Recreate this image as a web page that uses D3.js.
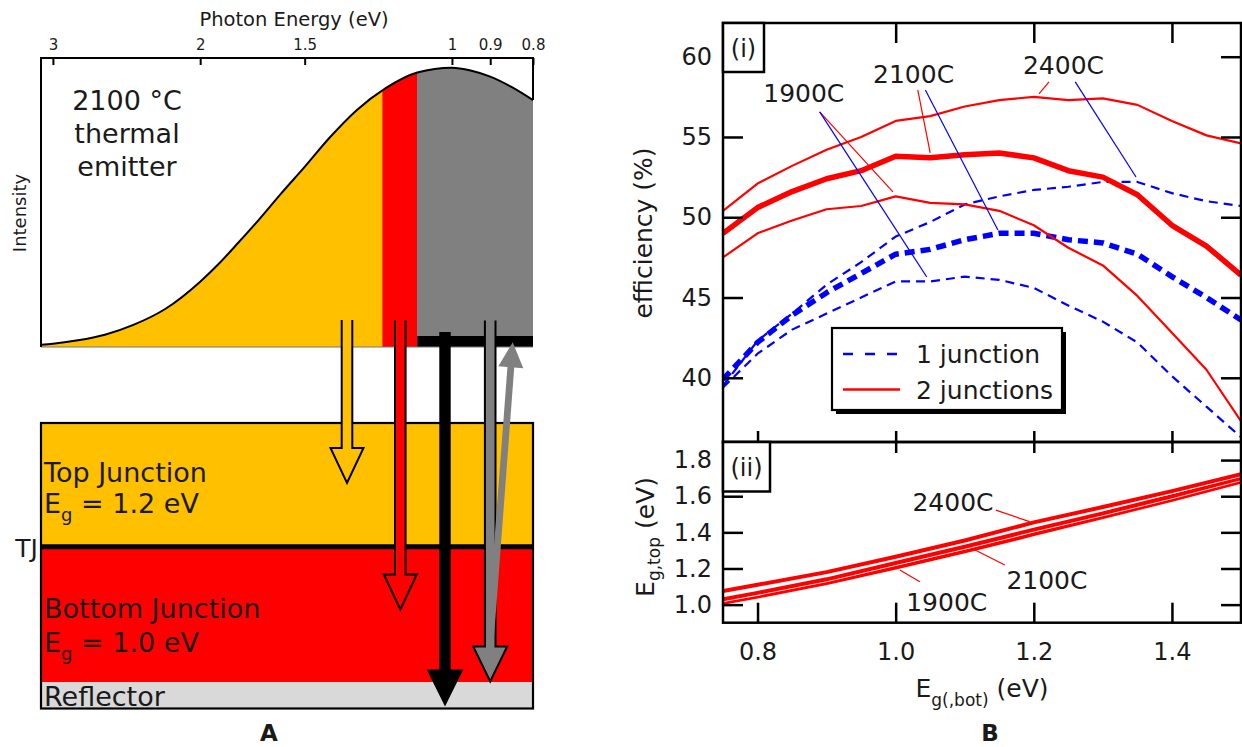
<!DOCTYPE html>
<html><head><meta charset="utf-8">
<script src="https://cdn.jsdelivr.net/npm/d3@7"></script>
<style>
html,body{margin:0;padding:0;background:#fff;}
svg{display:block;}
</style></head><body>
<svg id="c" width="1242" height="747"></svg>
<script>
// ================= DATA =================
// Panel A: 2100 °C thermal emitter spectrum (relative intensity vs photon energy)
const specEnergy    = [3.1, 3.0, 2.8, 2.6, 2.4, 2.2, 2.0, 1.9, 1.8, 1.7, 1.6, 1.5, 1.4, 1.3, 1.2, 1.1, 1.0, 0.95, 0.9, 0.85, 0.8];
const specIntensity = [0.008, 0.012, 0.024, 0.044, 0.08, 0.137, 0.234, 0.298, 0.374, 0.457, 0.55, 0.645, 0.75, 0.848, 0.927, 0.983, 1.0, 0.99, 0.968, 0.932, 0.884];
const energyTicks = [3, 2, 1.5, 1, 0.9, 0.8];
const bandEdges = [1.21, 1.10];           // top-junction / bottom-junction absorption edges as drawn
const bandColors = ["#FFC000", "#FF0000", "#808080"];

// Panel B (i): efficiency (%) vs bottom bandgap (eV)
const egBot = [0.75, 0.80, 0.85, 0.90, 0.95, 1.00, 1.05, 1.10, 1.15, 1.20, 1.25, 1.30, 1.35, 1.40, 1.45, 1.50];
const eff2J_2400 = [50.4, 52.1, 53.2, 54.2, 55.0, 56.0, 56.3, 56.9, 57.3, 57.5, 57.3, 57.4, 57.0, 56.0, 55.1, 54.6];
const eff2J_2100 = [49.0, 50.6, 51.6, 52.4, 52.9, 53.8, 53.7, 53.9, 54.0, 53.7, 52.9, 52.5, 51.4, 49.5, 48.2, 46.4];
const eff2J_1900 = [47.5, 49.0, 49.8, 50.5, 50.7, 51.3, 50.9, 50.8, 50.4, 49.5, 48.1, 47.0, 45.1, 42.8, 40.5, 37.3];
const eff1J_2400 = [39.5, 42.3, 44.0, 45.8, 47.2, 48.8, 49.7, 50.8, 51.3, 51.7, 51.9, 52.2, 52.2, 51.5, 51.0, 50.7];
const eff1J_2100 = [39.9, 42.2, 43.9, 45.3, 46.5, 47.7, 48.0, 48.6, 49.0, 49.0, 48.6, 48.4, 47.7, 46.3, 45.0, 43.6];
const eff1J_1900 = [39.4, 41.5, 43.0, 44.0, 45.0, 46.0, 46.0, 46.3, 46.1, 45.6, 44.5, 43.5, 42.2, 40.1, 38.2, 36.3];
const effTicks = [40, 45, 50, 55, 60];
const egTicks = [0.8, 1.0, 1.2, 1.4];

// Panel B (ii): optimal top bandgap vs bottom bandgap
const egBot2 = [0.75, 0.80, 0.90, 1.00, 1.10, 1.20, 1.30, 1.40, 1.50];
const egTop_1900 = [1.010, 1.045, 1.120, 1.205, 1.295, 1.390, 1.485, 1.580, 1.680];
const egTop_2100 = [1.030, 1.065, 1.140, 1.230, 1.320, 1.415, 1.505, 1.600, 1.700];
const egTop_2400 = [1.075, 1.110, 1.180, 1.265, 1.355, 1.455, 1.540, 1.628, 1.722];
const egTopTicks = [1.0, 1.2, 1.4, 1.6, 1.8];

// Annotation labels (data coordinates)
const annoI = [
  {label: "1900C", x: 0.867, y: 57.73, lines: [
    {c: "#FF0000", x1: 0.890, y1: 56.56, x2: 0.996, y2: 51.58},
    {c: "#0000FF", x1: 0.890, y1: 56.56, x2: 1.045, y2: 46.28}]},
  {label: "2100C", x: 1.026, y: 58.93, lines: [
    {c: "#FF0000", x1: 1.032, y1: 57.93, x2: 1.050, y2: 54.01},
    {c: "#0000FF", x1: 1.043, y1: 57.93, x2: 1.148, y2: 49.21}]},
  {label: "2400C", x: 1.243, y: 59.49, lines: [
    {c: "#FF0000", x1: 1.222, y1: 58.43, x2: 1.2075, y2: 57.68},
    {c: "#0000FF", x1: 1.260, y1: 58.43, x2: 1.348, y2: 52.51}]}
];
const annoII = [
  {label: "2400C", x: 1.083, y: 1.570, lines: [{c: "#FF0000", x1: 1.145, y1: 1.523, x2: 1.194, y2: 1.459}]},
  {label: "2100C", x: 1.219, y: 1.136, lines: [{c: "#FF0000", x1: 1.158, y1: 1.219, x2: 1.115, y2: 1.302}]},
  {label: "1900C", x: 1.074, y: 1.016, lines: [{c: "#FF0000", x1: 1.035, y1: 1.127, x2: 1.006, y2: 1.192}]}
];

// ================= DRAWING =================
const FONT = "'DejaVu Sans', sans-serif";
const INK = "#1a1a1a";
const svg = d3.select("#c").attr("font-family", FONT);
const defs = svg.append("defs");

// ---------- Panel A : spectrum ----------
const xE = d3.scaleLog().domain([3.1, 0.8]).range([41, 533]);
const yI = d3.scaleLinear().domain([0, 1]).range([347, 67.7]);
const spec = specEnergy.map((e, i) => ({e, v: specIntensity[i]}));
const areaA = d3.area().x(d => xE(d.e)).y0(yI(0)).y1(d => yI(d.v)).curve(d3.curveMonotoneX);
const lineA = d3.line().x(d => xE(d.e)).y(d => yI(d.v)).curve(d3.curveMonotoneX);
const bandBounds = [specEnergy[0], bandEdges[0], bandEdges[1], specEnergy[specEnergy.length - 1]];
const gA = svg.append("g");
bandColors.forEach((col, i) => {
  const x0 = xE(bandBounds[i]), x1 = xE(bandBounds[i + 1]);
  defs.append("clipPath").attr("id", "band" + i).append("rect")
    .attr("x", x0 - (i ? 0.3 : 0)).attr("y", 0).attr("width", x1 - x0 + 0.3).attr("height", 400);
  gA.append("path").datum(spec).attr("d", areaA).attr("fill", col).attr("clip-path", `url(#band${i})`);
});
// black bar under the sub-bandgap region
gA.append("rect").attr("x", xE(bandEdges[1])).attr("y", 336)
  .attr("width", xE(0.8) - xE(bandEdges[1])).attr("height", yI(0) - 336).attr("fill", "#000");
gA.append("path").datum(spec).attr("d", lineA).attr("fill", "none").attr("stroke", "#000").attr("stroke-width", 2);
gA.append("line").attr("x1", xE(3.1)).attr("x2", xE(0.8)).attr("y1", yI(0)).attr("y2", yI(0))
  .attr("stroke", "#777").attr("stroke-width", 1);
gA.append("path")
  .attr("d", `M${xE(3.1)},${yI(0)}V58H${xE(0.8)}V${yI(specIntensity[specIntensity.length - 1])}`)
  .attr("fill", "none").attr("stroke", "#000").attr("stroke-width", 2);
const axA = gA.append("g").attr("transform", "translate(0,58)")
  .call(d3.axisTop(xE).tickValues(energyTicks).tickFormat(d => String(d)).tickSize(-7).tickPadding(8));
axA.select(".domain").remove();
axA.attr("font-family", null).attr("font-size", null);
axA.selectAll(".tick line").attr("stroke", "#000").attr("stroke-width", 2);
axA.selectAll(".tick text").attr("font-size", 15).attr("fill", INK);
gA.append("text").attr("x", 294).attr("y", 26).attr("text-anchor", "middle")
  .attr("font-size", 19.5).attr("fill", INK).text("Photon Energy (eV)");
gA.append("text").attr("transform", "translate(26,213) rotate(-90)").attr("text-anchor", "middle")
  .attr("font-size", 18).attr("fill", INK).text("Intensity");
["2100 °C", "thermal", "emitter"].forEach((t, i) => {
  gA.append("text").attr("x", 127).attr("y", 110 + i * 33).attr("text-anchor", "middle")
    .attr("font-size", 27).attr("fill", INK).text(t);
});

// ---------- Panel A : device stack ----------
const stack = [
  {y0: 423, y1: 547, fill: "#FFC000"},
  {y0: 547, y1: 682, fill: "#FF0000"},
  {y0: 682, y1: 708.5, fill: "#D9D9D9"}
];
const gS = svg.append("g");
stack.forEach(s => gS.append("rect").attr("x", 41).attr("y", s.y0).attr("width", 492).attr("height", s.y1 - s.y0).attr("fill", s.fill));
gS.append("line").attr("x1", 41).attr("x2", 533).attr("y1", 546.7).attr("y2", 546.7).attr("stroke", "#000").attr("stroke-width", 5);
gS.append("rect").attr("x", 41).attr("y", 423).attr("width", 492).attr("height", 285.5)
  .attr("fill", "none").attr("stroke", "#000").attr("stroke-width", 2.2);

function egText(y, val) {
  const t = gS.append("text").attr("x", 44).attr("y", y).attr("font-size", 27).attr("fill", INK);
  t.append("tspan").text("E");
  t.append("tspan").attr("font-size", 18).attr("dy", 8).text("g");
  t.append("tspan").attr("dy", -8).text(" = " + val + " eV");
}
gS.append("text").attr("x", 44).attr("y", 481.5).attr("font-size", 27).attr("fill", INK).text("Top Junction");
egText(513, "1.2");
gS.append("text").attr("x", 44).attr("y", 618).attr("font-size", 27).attr("fill", INK).text("Bottom Junction");
egText(651.5, "1.0");
gS.append("text").attr("x", 44).attr("y", 705.5).attr("font-size", 27).attr("fill", INK).text("Reflector");
gS.append("text").attr("x", 38).attr("y", 557).attr("text-anchor", "end").attr("font-size", 25).attr("fill", INK).text("TJ");

// ---------- Panel A : arrows ----------
function downArrow(cx, yTop, yTip, w, hw, hl, fill, outline) {
  const yh = yTip - hl;
  const pts = [[cx - w, yTop], [cx - w, yh], [cx - hw, yh], [cx, yTip], [cx + hw, yh], [cx + w, yh], [cx + w, yTop]];
  const d = "M" + pts.map(p => p.join(",")).join("L");
  gS.append("path").attr("d", d + "Z").attr("fill", fill);
  if (outline) gS.append("path").attr("d", d).attr("fill", "none").attr("stroke", "#000")
    .attr("stroke-width", 2).attr("stroke-linejoin", "miter");
}
downArrow(347, 320, 483, 5.3, 16.5, 35, "#FFC000", true);
downArrow(400.3, 320.5, 609.5, 5.3, 16.5, 35, "#FF0000", true);
downArrow(445, 332, 706.5, 5.7, 18.3, 37, "#000", false);
downArrow(490.2, 320.5, 681.5, 5.3, 17, 35, "#808080", true);
// slanted reflected photon (up)
(function () {
  const bx = 490, by = 645, tx = 512.7, ty = 342.3, hl = 25, hw = 12.5, w = 3.4;
  const L = Math.hypot(tx - bx, ty - by), ux = (tx - bx) / L, uy = (ty - by) / L, nx = -uy, ny = ux;
  const hx = tx - ux * hl, hy = ty - uy * hl;
  const pts = [[bx + nx * w, by + ny * w], [hx + nx * w, hy + ny * w], [hx + nx * hw, hy + ny * hw], [tx, ty],
    [hx - nx * hw, hy - ny * hw], [hx - nx * w, hy - ny * w], [bx - nx * w, by - ny * w]];
  gS.append("path").attr("d", "M" + pts.map(p => p.join(",")).join("L") + "Z").attr("fill", "#808080");
})();
svg.append("text").attr("x", 269).attr("y", 741).attr("text-anchor", "middle")
  .attr("font-size", 23).attr("font-weight", "bold").attr("fill", INK).text("A");

// ---------- Panel B ----------
const X0 = 723, X1 = 1241;
const xB = d3.scaleLinear().domain([0.75, 1.5]).range([X0, X1]);
const yEff = d3.scaleLinear().domain([36, 62.1]).range([442, 23]);
const yTop = d3.scaleLinear().domain([0.9, 1.9]).range([622.7, 442]);
const gB = svg.append("g");

function styleAxis(g, fs) {
  g.select(".domain").remove();
  g.attr("font-family", null).attr("font-size", null);
  g.selectAll(".tick line").attr("stroke", "#000").attr("stroke-width", 2.5);
  g.selectAll(".tick text").attr("font-size", fs).attr("fill", INK);
}
// clip for (i)
defs.append("clipPath").attr("id", "clipI").append("rect").attr("x", X0).attr("y", 23).attr("width", X1 - X0).attr("height", 419);
defs.append("clipPath").attr("id", "clipII").append("rect").attr("x", X0).attr("y", 442).attr("width", X1 - X0).attr("height", 180.7);

const seriesI = [
  {v: eff1J_1900, c: "#0000FF", w: 2.2, dash: "9,6"},
  {v: eff1J_2400, c: "#0000FF", w: 2.2, dash: "9,6"},
  {v: eff1J_2100, c: "#0000FF", w: 5.5, dash: "10,6"},
  {v: eff2J_1900, c: "#FF0000", w: 2.2, dash: null},
  {v: eff2J_2400, c: "#FF0000", w: 2.2, dash: null},
  {v: eff2J_2100, c: "#FF0000", w: 5.5, dash: null}
];
const lineI = d3.line().x((d, i) => xB(egBot[i])).y(d => yEff(d));
const gI = gB.append("g").attr("clip-path", "url(#clipI)");
seriesI.forEach(s => {
  gI.append("path").datum(s.v).attr("d", lineI).attr("fill", "none").attr("stroke", s.c)
    .attr("stroke-width", s.w).attr("stroke-dasharray", s.dash).attr("stroke-linejoin", "round");
});
annoI.forEach(a => {
  a.lines.forEach(l => gI.append("line").attr("x1", xB(l.x1)).attr("y1", yEff(l.y1)).attr("x2", xB(l.x2)).attr("y2", yEff(l.y2))
    .attr("stroke", l.c).attr("stroke-width", 1.2));
  gB.append("text").attr("x", xB(a.x)).attr("y", yEff(a.y)).attr("dy", "0.36em").attr("text-anchor", "middle")
    .attr("font-size", 25).attr("fill", INK).text(a.label);
});

// legend
gB.append("rect").attr("x", 836).attr("y", 332).attr("width", 230).attr("height", 82).attr("fill", "#000");
gB.append("rect").attr("x", 832).attr("y", 328).attr("width", 230).attr("height", 82).attr("fill", "#fff")
  .attr("stroke", "#000").attr("stroke-width", 2.2);
const legendItems = [
  {label: "1 junction", c: "#0000FF", dash: "10,12", y: 354},
  {label: "2 junctions", c: "#FF0000", dash: null, y: 389.5}
];
legendItems.forEach(it => {
  gB.append("line").attr("x1", 843).attr("x2", 900).attr("y1", it.y).attr("y2", it.y)
    .attr("stroke", it.c).attr("stroke-width", 2.5).attr("stroke-dasharray", it.dash);
  gB.append("text").attr("x", 916).attr("y", it.y).attr("dy", "0.36em").attr("font-size", 25).attr("fill", INK).text(it.label);
});

// panel (ii) lines
const lineII = d3.line().x((d, i) => xB(egBot2[i])).y(d => yTop(d));
const gII = gB.append("g").attr("clip-path", "url(#clipII)");
[egTop_1900, egTop_2100, egTop_2400].forEach(v => {
  gII.append("path").datum(v).attr("d", lineII).attr("fill", "none").attr("stroke", "#fff").attr("stroke-width", 5.6);
  gII.append("path").datum(v).attr("d", lineII).attr("fill", "none").attr("stroke", "#FF0000").attr("stroke-width", 4);
});
annoII.forEach(a => {
  a.lines.forEach(l => gII.append("line").attr("x1", xB(l.x1)).attr("y1", yTop(l.y1)).attr("x2", xB(l.x2)).attr("y2", yTop(l.y2))
    .attr("stroke", l.c).attr("stroke-width", 1.2));
  gB.append("text").attr("x", xB(a.x)).attr("y", yTop(a.y)).attr("dy", "0.36em").attr("text-anchor", "middle")
    .attr("font-size", 25).attr("fill", INK).text(a.label);
});

// axes (i)
gB.append("g").attr("transform", `translate(${X0},0)`)
  .call(d3.axisLeft(yEff).tickValues(effTicks).tickSize(-20).tickPadding(11)).call(styleAxis, 24);
gB.append("g").attr("transform", `translate(${X1},0)`)
  .call(d3.axisRight(yEff).tickValues(effTicks).tickSize(-20).tickFormat("")).call(styleAxis, 24);
gB.append("g").attr("transform", "translate(0,23)")
  .call(d3.axisTop(xB).tickValues(egTicks).tickSize(-20).tickFormat("")).call(styleAxis, 24);
gB.append("g").attr("transform", "translate(0,442)")
  .call(d3.axisBottom(xB).tickValues(egTicks).tickSize(-11).tickFormat("")).call(styleAxis, 24);
// axes (ii)
gB.append("g").attr("transform", `translate(${X0},0)`)
  .call(d3.axisLeft(yTop).tickValues(egTopTicks).tickSize(-20).tickPadding(11).tickFormat(d3.format(".1f"))).call(styleAxis, 24);
gB.append("g").attr("transform", `translate(${X1},0)`)
  .call(d3.axisRight(yTop).tickValues(egTopTicks).tickSize(-20).tickFormat("")).call(styleAxis, 24);
gB.append("g").attr("transform", "translate(0,442)")
  .call(d3.axisTop(xB).tickValues(egTicks).tickSize(-11).tickFormat("")).call(styleAxis, 24);
gB.append("g").attr("transform", "translate(0,622.7)")
  .call(d3.axisBottom(xB).tickValues(egTicks).tickSize(-20).tickPadding(20).tickFormat(d3.format(".1f"))).call(styleAxis, 24);

// frames
gB.append("rect").attr("x", X0).attr("y", 23).attr("width", X1 - X0).attr("height", 419)
  .attr("fill", "none").attr("stroke", "#000").attr("stroke-width", 2.5);
gB.append("rect").attr("x", X0).attr("y", 442).attr("width", X1 - X0).attr("height", 180.7)
  .attr("fill", "none").attr("stroke", "#000").attr("stroke-width", 2.5);
// panel tags
gB.append("rect").attr("x", X0).attr("y", 23).attr("width", 41).attr("height", 49).attr("fill", "#fff")
  .attr("stroke", "#000").attr("stroke-width", 2.5);
gB.append("text").attr("x", X0 + 20.5).attr("y", 48).attr("dy", "0.36em").attr("text-anchor", "middle")
  .attr("font-size", 24).attr("fill", INK).text("(i)");
gB.append("rect").attr("x", X0).attr("y", 442).attr("width", 47).attr("height", 49.5).attr("fill", "#fff")
  .attr("stroke", "#000").attr("stroke-width", 2.5);
gB.append("text").attr("x", X0 + 23.5).attr("y", 467).attr("dy", "0.36em").attr("text-anchor", "middle")
  .attr("font-size", 24).attr("fill", INK).text("(ii)");

// axis titles
gB.append("text").attr("transform", "translate(652,233) rotate(-90)").attr("text-anchor", "middle")
  .attr("font-size", 25).attr("fill", INK).text("efficiency (%)");
(function () {
  const t = gB.append("text").attr("transform", "translate(654,537) rotate(-90)").attr("text-anchor", "middle")
    .attr("font-size", 25).attr("fill", INK);
  t.append("tspan").text("E");
  t.append("tspan").attr("font-size", 17).attr("dy", 6).text("g,top");
  t.append("tspan").attr("dy", -6).text(" (eV)");
})();
(function () {
  const t = gB.append("text").attr("x", 982).attr("y", 697).attr("text-anchor", "middle")
    .attr("font-size", 25).attr("fill", INK);
  t.append("tspan").text("E");
  t.append("tspan").attr("font-size", 17).attr("dy", 9).text("g(,bot)");
  t.append("tspan").attr("dy", -9).text(" (eV)");
})();
svg.append("text").attr("x", 990).attr("y", 741).attr("text-anchor", "middle")
  .attr("font-size", 23).attr("font-weight", "bold").attr("fill", INK).text("B");
</script>
</body></html>
